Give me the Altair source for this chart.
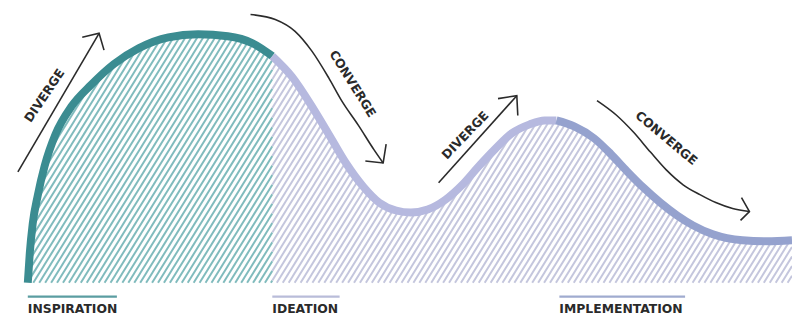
import altair as alt
import pandas as pd
import numpy as np

# ---- curve (x in px-like progress units, h = height above baseline) ----
curve_x = [28, 30, 33, 38, 45, 56, 72, 92, 115, 140, 170, 200, 230, 255, 275,
           295, 317, 335, 350, 367, 383, 400, 415, 432, 450, 467, 483, 500, 517,
           535, 550, 562, 580, 600, 617, 633, 650, 667, 684, 700, 720, 750, 775, 800]
curve_h = [0, 30, 60, 88, 118, 150, 178, 200, 221, 237, 248, 251, 249, 242, 229,
           208, 175, 145, 120, 97, 81, 73, 71, 74, 84, 99, 117, 135, 151,
           160, 164, 164, 158, 146, 130, 113, 96, 81, 68, 58, 49, 43, 42, 43]

phase_names = ["INSPIRATION", "IDEATION", "IMPLEMENTATION"]
phase_start = [28, 275, 562]
phase_end = [275, 562, 800]
phase_line_colors = ["#3B8C91", "#B6B9DF", "#95A2CE"]
label_start = [28, 275, 565]
label_end = [118, 343, 692]
label_colors = ["#5B9DA1", "#B9BCD9", "#A0ABCF"]

hatch_colors = {"teal": "#80BBBD", "lav": "#C4C6DD"}

# arrows: paths (px-like x, page y) -> converted to h
arrow_paths = {
    "d1": [(18, 172), (100, 32)],
    "c1": [(253, 13), (278, 18), (298, 30), (315, 50), (332, 77), (345, 100),
           (362, 125), (378, 150), (387, 163)],
    "d2": [(443, 183), (522, 95)],
    "c2": [(603, 100), (623, 115), (640, 132), (657, 152), (673, 170), (690, 185),
           (707, 195), (723, 203), (740, 209), (757, 212)],
}
arrow_heads = {
    "d1": [(83, 36), (100, 32), (105, 49)],
    "c1": [(390, 144), (387, 163), (369, 161)],
    "d2": [(503, 98), (522, 95), (523, 115)],
    "c2": [(749, 198), (757, 212), (748, 221)],
}
arrow_text = ["DIVERGE", "CONVERGE", "DIVERGE", "CONVERGE"]
arrow_text_x = [45, 356, 470, 673]
arrow_text_py = [95, 83, 135, 138]
arrow_text_angle = [304, 58, 314, 40]

BASE = 284  # page y of baseline

def h(py):
    return BASE - py

X_DOM = [8, 800]
H_DOM = [h(316), h(8)]

def X(field="x"):
    return alt.X(f"{field}:Q", scale=alt.Scale(domain=X_DOM, nice=False, zero=False), axis=None)

def Y(field="h"):
    return alt.Y(f"{field}:Q", scale=alt.Scale(domain=H_DOM, nice=False, zero=False), axis=None)

# ---- curve data ----
curve_df = pd.DataFrame({"x": curve_x, "h": curve_h})
curve_df["top"] = H_DOM[1]
seg_rows = []
for i, (s, e) in enumerate(zip(phase_start, phase_end)):
    for xv, hv in zip(curve_x, curve_h):
        if s <= xv <= e:
            seg_rows.append({"x": xv, "h": hv, "seg": phase_names[i], "col": phase_line_colors[i]})
seg_df = pd.DataFrame(seg_rows)

# ---- hatch texture ----
k, spacing, HT = 0.62, 6, 262
rows = []
for x0 in np.arange(28 - k * HT, 800, spacing):
    for part, lo_x, hi_x in [("teal", 30, 275), ("lav", 275, 800)]:
        lo = max(0, (lo_x - x0) / k)
        hi = min(HT, (hi_x - x0) / k)
        if hi > lo:
            rows.append({"x": x0 + k * lo, "h": lo, "x2": x0 + k * hi, "h2": hi,
                         "col": hatch_colors[part]})
hatch_df = pd.DataFrame(rows)

hatch = alt.Chart(hatch_df).mark_rule(strokeWidth=2).encode(
    x=X(), y=Y(), x2="x2:Q", y2="h2:Q", color=alt.Color("col:N", scale=None))

mask = alt.Chart(curve_df).mark_area(color="white", interpolate="monotone").encode(
    x=X(), y=Y(), y2="top:Q")

curve = alt.Chart(seg_df).mark_line(strokeWidth=8, interpolate="monotone", strokeCap="butt").encode(
    x=X(), y=Y(), detail="seg:N", color=alt.Color("col:N", scale=None))

lab_df = pd.DataFrame({"name": phase_names, "x": label_start, "x2": label_end,
                       "col": label_colors, "h": [h(298)] * 3, "ht": [h(315)] * 3})
underline = alt.Chart(lab_df).mark_rule(strokeWidth=2.5).encode(
    x=X(), x2="x2:Q", y=Y(), color=alt.Color("col:N", scale=None))
labels = alt.Chart(lab_df).mark_text(align="left", baseline="alphabetic", font="DejaVu Sans",
                                     fontWeight="bold", fontSize=12.5, color="#2a2a2a").encode(
    x=X(), y=Y("ht"), text="name:N")

ap_rows = []
for key, pts in arrow_paths.items():
    for i, (px, py) in enumerate(pts):
        ap_rows.append({"id": key, "o": i, "x": px, "h": h(py)})
ap_df = pd.DataFrame(ap_rows)
arrows = alt.Chart(ap_df).mark_line(strokeWidth=1.6, color="#2b2b2b", interpolate="monotone").encode(
    x=X(), y=Y(), detail="id:N", order="o:Q")

ah_rows = []
for key, pts in arrow_heads.items():
    for i, (px, py) in enumerate(pts):
        ah_rows.append({"id": key, "o": i, "x": px, "h": h(py)})
ah_df = pd.DataFrame(ah_rows)
heads = alt.Chart(ah_df).mark_line(strokeWidth=1.6, color="#2b2b2b", strokeJoin="miter").encode(
    x=X(), y=Y(), detail="id:N", order="o:Q")

at_df = pd.DataFrame({"t": arrow_text, "x": arrow_text_x,
                      "h": [h(p) for p in arrow_text_py], "a": arrow_text_angle})
atext = alt.Chart(at_df).mark_text(align="center", baseline="middle", font="DejaVu Sans",
                                   fontWeight="bold", fontSize=12.5, color="#2a2a2a").encode(
    x=X(), y=Y(), text="t:N", angle=alt.Angle("a:Q", scale=None))

chart = alt.layer(hatch, mask, curve, underline, labels, arrows, heads, atext).properties(
    width=792, height=308, padding=0, autosize="none", background="white"
).configure_view(stroke=None)

chart.save("out.html", embed_options={"renderer": "svg", "actions": False})
